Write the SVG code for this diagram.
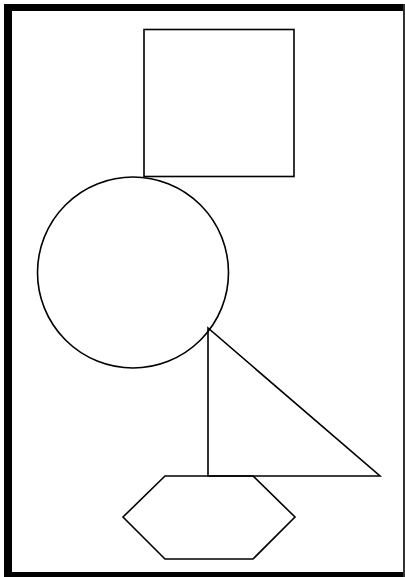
<svg xmlns="http://www.w3.org/2000/svg" width="405" height="577" viewBox="0 0 405 577">
<style>
.s{fill:none;stroke:#000;stroke-width:1.6}
</style>
<rect width="405" height="577" fill="#fff"/>
<g id="frame">
<rect x="4" y="4" width="401" height="7" fill="#000"/>
<rect x="4" y="4" width="8" height="573" fill="#000"/>
<rect x="4" y="572" width="401" height="5" fill="#000"/>
<rect x="403" y="4" width="2" height="573" fill="#333"/>
</g>
<g id="square"><rect class="s" x="144" y="29.5" width="150" height="147"/></g>
<g id="circle"><circle class="s" cx="133" cy="272.5" r="95.5"/></g>
<g id="triangle"><polygon class="s" points="208,328 208,476 380,476"/></g>
<g id="hexagon"><polygon class="s" points="165,476 253,476 295,517 253,559 165,559 123,517"/></g>
</svg>
